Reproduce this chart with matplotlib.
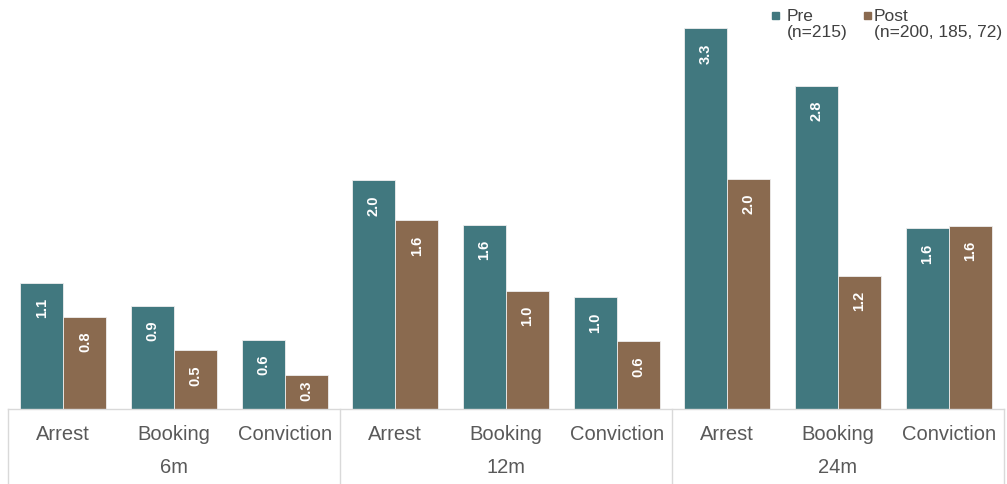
import matplotlib
matplotlib.use("Agg")
import matplotlib.pyplot as plt
from matplotlib.patches import Rectangle

plt.rcParams['font.family'] = ['Liberation Sans', 'DejaVu Sans']

# data
groups = ['6m', '12m', '24m']
categories = ['Arrest', 'Booking', 'Conviction']
pre = [1.10, 0.90, 0.60, 1.99, 1.60, 0.97, 3.31, 2.81, 1.57]
post = [0.80, 0.51, 0.30, 1.64, 1.03, 0.59, 2.00, 1.16, 1.59]
legend_labels = ['Pre\n(n=215)', 'Post\n(n=200, 185, 72)']

teal = '#41787f'
brown = '#8a6a4f'
line_col = '#d9d9d9'
text_col = '#595959'

W, H = 1007, 485
fig = plt.figure(figsize=(W / 100, H / 100), dpi=100)
ax = fig.add_axes([8 / W, 75 / H, 996 / W, 410 / H])

n = len(pre)
x = list(range(n))
w = 0.39
px = 115.0  # pixels per unit
ax.bar([i - w / 2 for i in x], pre, w, color=teal, edgecolor='#eeeeee', linewidth=0.6)
ax.bar([i + w / 2 for i in x], post, w, color=brown, edgecolor='#eeeeee', linewidth=0.6)
ax.set_xlim(-0.5, n - 0.5)
ax.set_ylim(0, 410 / px)

# value labels, rotated, inside end (pulled down less on short bars)
for i in x:
    for off, v in ((-w / 2, pre[i]), (w / 2, post[i])):
        gap = min(14, v * px - 21 - 8)
        ax.text(i + off, v - gap / px, '%.1f' % v, rotation=90, ha='center', va='top',
                color='white', fontsize=10.5, fontweight='bold')

for s in ax.spines.values():
    s.set_visible(False)
ax.set_xticks([])
ax.set_yticks([])

# category axis drawn by hand
tr = ax.get_xaxis_transform()
ax.plot([-0.5, n - 0.5], [0, 0], color=line_col, lw=1, transform=tr, clip_on=False)
bottom = -75 / 410
for k in range(len(groups) + 1):
    xv = -0.5 + 3 * k
    ax.plot([xv, xv], [0, bottom], color=line_col, lw=1, transform=tr, clip_on=False)
for i in x:
    ax.text(i, -25 / 410, categories[i % 3], ha='center', va='center',
            fontsize=14.5, color=text_col, transform=tr)
for g, name in enumerate(groups):
    ax.text(3 * g + 1, -58 / 410, name, ha='center', va='center',
            fontsize=14.5, color=text_col, transform=tr)

# legend
for xs, xt, col, lab in ((772, 787, teal, legend_labels[0]),
                         (864, 874, brown, legend_labels[1])):
    fig.patches.append(Rectangle((xs / W, 1 - 20 / H), 7 / W, 7 / H,
                                 transform=fig.transFigure, color=col))
    fig.text(xt / W, 1 - 9 / H, lab, ha='left', va='top',
             fontsize=12.5, color='#404040', linespacing=1.12)

fig.savefig('out.png', dpi=100)
